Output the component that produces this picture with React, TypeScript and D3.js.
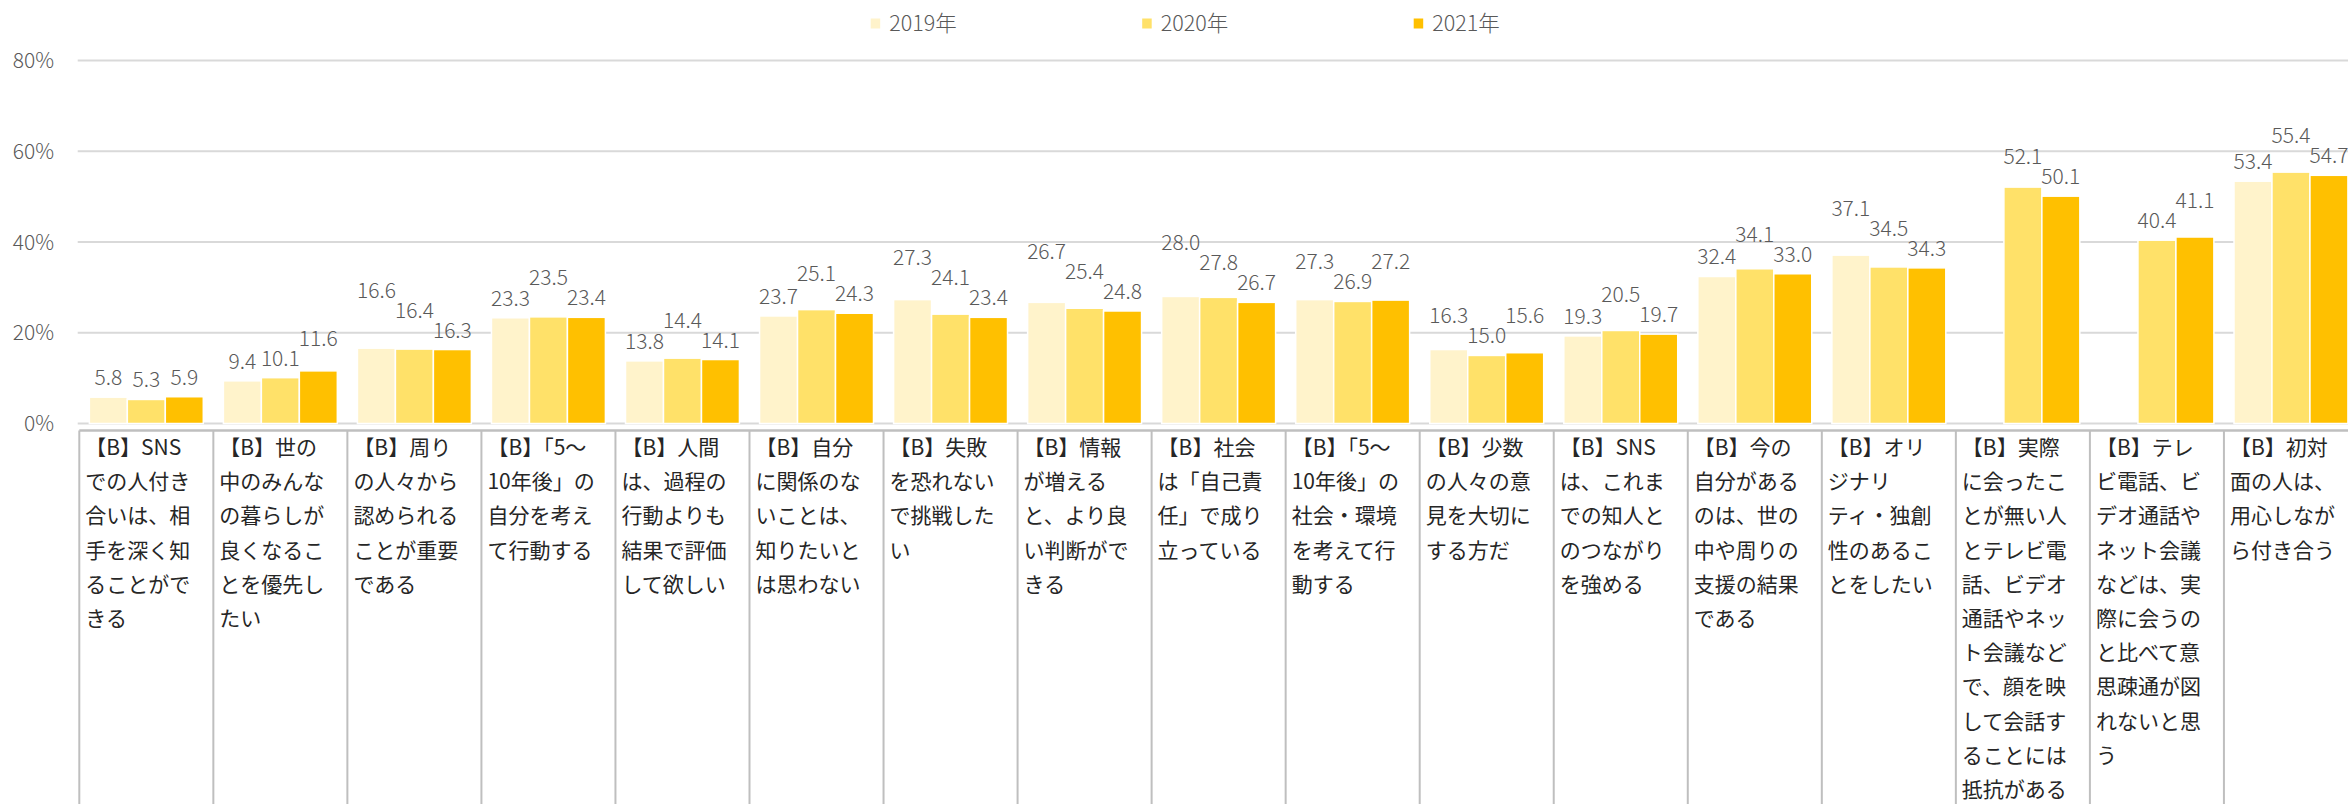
import React from "react";
import * as d3 from "d3";

// ---------- data ----------
const categoryLines: string[][] = [
  ["【B】SNS", "での人付き", "合いは、相", "手を深く知", "ることがで", "きる"],
  ["【B】世の", "中のみんな", "の暮らしが", "良くなるこ", "とを優先し", "たい"],
  ["【B】周り", "の人々から", "認められる", "ことが重要", "である"],
  ["【B】「5〜", "10年後」の", "自分を考え", "て行動する"],
  ["【B】人間", "は、過程の", "行動よりも", "結果で評価", "して欲しい"],
  ["【B】自分", "に関係のな", "いことは、", "知りたいと", "は思わない"],
  ["【B】失敗", "を恐れない", "で挑戦した", "い"],
  ["【B】情報", "が増える", "と、より良", "い判断がで", "きる"],
  ["【B】社会", "は「自己責", "任」で成り", "立っている"],
  ["【B】「5〜", "10年後」の", "社会・環境", "を考えて行", "動する"],
  ["【B】少数", "の人々の意", "見を大切に", "する方だ"],
  ["【B】SNS", "は、これま", "での知人と", "のつながり", "を強める"],
  ["【B】今の", "自分がある", "のは、世の", "中や周りの", "支援の結果", "である"],
  ["【B】オリ", "ジナリ", "ティ・独創", "性のあるこ", "とをしたい"],
  ["【B】実際", "に会ったこ", "とが無い人", "とテレビ電", "話、ビデオ", "通話やネッ", "ト会議など", "で、顔を映", "して会話す", "ることには", "抵抗がある"],
  ["【B】テレ", "ビ電話、ビ", "デオ通話や", "ネット会議", "などは、実", "際に会うの", "と比べて意", "思疎通が図", "れないと思", "う"],
  ["【B】初対", "面の人は、", "用心しなが", "ら付き合う"],
];

const seriesNames = ["2019年", "2020年", "2021年"];
const values2019: (number | null)[] = [5.8, 9.4, 16.6, 23.3, 13.8, 23.7, 27.3, 26.7, 28.0, 27.3, 16.3, 19.3, 32.4, 37.1, null, null, 53.4];
const values2020: (number | null)[] = [5.3, 10.1, 16.4, 23.5, 14.4, 25.1, 24.1, 25.4, 27.8, 26.9, 15.0, 20.5, 34.1, 34.5, 52.1, 40.4, 55.4];
const values2021: (number | null)[] = [5.9, 11.6, 16.3, 23.4, 14.1, 24.3, 23.4, 24.8, 26.7, 27.2, 15.6, 19.7, 33.0, 34.3, 50.1, 41.1, 54.7];
const yTicks = [0, 20, 40, 60, 80];

// ---------- styles ----------
const colors = ["#FFF3CB", "#FFE169", "#FFC000"];
const W = 2348;
const H = 804;
const FONT = "'Noto Sans CJK JP', 'Noto Sans', sans-serif";
const NUM_FONT = "'Noto Sans CJK JP', 'Liberation Sans', sans-serif";

export default function App() {
  const allSeries = [values2019, values2020, values2021];
  const n = categoryLines.length;
  const x0 = 79.3;
  const step = 134.04;
  const idx = d3.range(n);

  const x = d3
    .scaleBand<number>()
    .domain(idx)
    .range([x0, x0 + n * step])
    .paddingInner(0.15)
    .paddingOuter(0.075);
  const xs = d3
    .scaleBand<number>()
    .domain(d3.range(seriesNames.length))
    .range([0, x.bandwidth()])
    .padding(0);
  const y = d3.scaleLinear().domain([0, 80]).range([423.5, 60.5]);

  const labelFs = 21;
  const gap = 12;
  const sep = 20;
  const textW = (s: string) =>
    s.split("").reduce((a, c) => a + (c === "." ? 0.28 : 0.556), 0) * labelFs;

  // data labels with simple collision avoidance inside each group
  type Lab = { cx: number; y: number; v: number; s: string; w: number };
  const labels: Lab[] = [];
  idx.forEach((i) => {
    const group: (Lab | null)[] = allSeries.map((ser, k) => {
      const v = ser[i];
      if (v == null) return null;
      const s = v.toFixed(1);
      return {
        cx: (x(i) as number) + (xs(k) as number) + xs.bandwidth() / 2,
        y: y(v) - gap,
        v,
        s,
        w: textW(s),
      };
    });
    for (let pass = 0; pass < 10; pass++) {
      let changed = false;
      for (let k = 0; k < group.length - 1; k++) {
        const a = group[k];
        const b = group[k + 1];
        if (!a || !b) continue;
        const overlapX = Math.abs(a.cx - b.cx) < (a.w + b.w) / 2 + 2;
        if (overlapX && Math.abs(a.y - b.y) < sep - 0.01) {
          if (b.v > a.v) b.y = a.y - sep;
          else a.y = b.y - sep;
          changed = true;
        }
      }
      if (!changed) break;
    }
    group.forEach((g) => g && labels.push(g));
  });

  const legendX0 = 870.7;
  const legendStep = 271.5;
  const tableTop = 430.5;
  const lineH = 34.2;

  return (
    <svg
      width={W}
      height={H}
      style={{ position: "absolute", left: 0, top: 0, background: "#fff" }}
    >
      <rect x={0} y={0} width={W} height={H} fill="#fff" />
      {/* gridlines */}
      {yTicks.map((t) => (
        <line
          key={"g" + t}
          x1={77.7}
          x2={W}
          y1={y(t)}
          y2={y(t)}
          stroke="#D9D9D9"
          strokeWidth={2}
        />
      ))}
      {/* y tick labels */}
      {yTicks.map((t) => (
        <text
          key={"t" + t}
          x={54}
          y={y(t) + 7.5}
          textAnchor="end"
          fontFamily={NUM_FONT}
          fontSize={21}
          fontWeight={300}
          fill="#595959"
        >
          {t + "%"}
        </text>
      ))}
      {/* bars */}
      {allSeries.map((ser, k) =>
        idx.map((i) => {
          const v = ser[i];
          if (v == null) return null;
          return (
            <rect
              key={`b${k}-${i}`}
              x={(x(i) as number) + (xs(k) as number)}
              y={y(v)}
              width={xs.bandwidth()}
              height={y(0) - y(v)}
              fill={colors[k]}
              stroke="#fff"
              strokeWidth={1.5}
            />
          );
        })
      )}
      {/* data labels */}
      {labels.map((l, j) => (
        <text
          key={"l" + j}
          x={l.cx}
          y={l.y}
          textAnchor="middle"
          fontFamily={NUM_FONT}
          fontSize={labelFs}
          fontWeight={300}
          fill="#595959"
        >
          {l.s}
        </text>
      ))}
      {/* category table */}
      <line x1={x0} x2={W} y1={tableTop} y2={tableTop} stroke="#BFBFBF" strokeWidth={2.5} />
      {d3.range(n + 1).map((i) => (
        <line
          key={"v" + i}
          x1={x0 + i * step}
          x2={x0 + i * step}
          y1={tableTop}
          y2={H}
          stroke="#BFBFBF"
          strokeWidth={2}
        />
      ))}
      {categoryLines.map((lines, i) =>
        lines.map((ln, j) => (
          <text
            key={`c${i}-${j}`}
            x={x0 + i * step + 6}
            y={455 + j * lineH}
            fontFamily={FONT}
            fontSize={21}
            fill="#262626"
          >
            {ln}
          </text>
        ))
      )}
      {/* legend */}
      {seriesNames.map((s, k) => (
        <g key={"lg" + k} transform={`translate(${legendX0 + k * legendStep},0)`}>
          <rect x={0} y={18.5} width={9.5} height={10} fill={colors[k]} />
          <text
            x={18.5}
            y={30.5}
            fontFamily={NUM_FONT}
            fontSize={21.5}
            fontWeight={300}
            fill="#595959"
          >
            {s}
          </text>
        </g>
      ))}
    </svg>
  );
}
